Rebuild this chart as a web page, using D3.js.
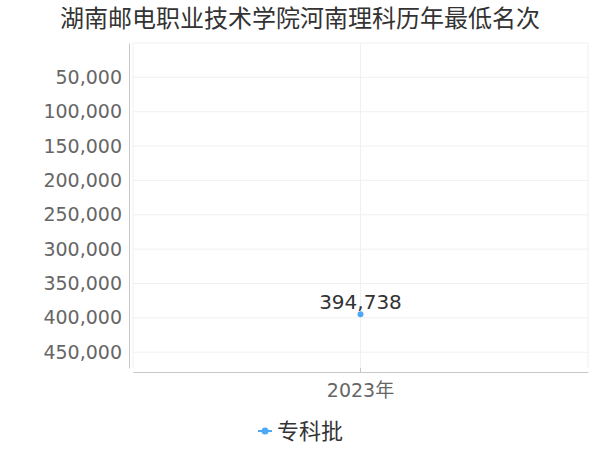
<!DOCTYPE html>
<html>
<head>
<meta charset="utf-8">
<script src="https://cdn.jsdelivr.net/npm/d3@7"></script>
<style>
  body { margin: 0; background: #fff; }
  svg { font-family: "DejaVu Sans", "Noto Sans CJK SC", sans-serif; }
</style>
</head>
<body>
<script>
// chart data
const years = ["2023年"];
const seriesName = "专科批";
const ranks = [394738];
const yTicks = [50000, 100000, 150000, 200000, 250000, 300000, 350000, 400000, 450000];

const width = 600, height = 450;
const margin = { top: 43, right: 12, bottom: 78, left: 133 };
const color = "#4ea7f7";

const svg = d3.select("body").append("svg")
  .attr("width", width)
  .attr("height", height);

// title
svg.append("text")
  .attr("x", 300)
  .attr("y", 27)
  .attr("text-anchor", "middle")
  .attr("font-size", 24)
  .attr("fill", "#333")
  .text("湖南邮电职业技术学院河南理科历年最低名次");

const x = d3.scaleBand()
  .domain(years)
  .range([margin.left, width - margin.right]);

// reversed rank axis: small values on top
const y = d3.scaleLinear()
  .domain([0, 473000])
  .range([margin.top, height - margin.bottom - 4]);

// horizontal grid
svg.append("g")
  .selectAll("line")
  .data([0, ...yTicks])
  .join("line")
  .attr("x1", margin.left)
  .attr("x2", width - margin.right)
  .attr("y1", d => y(d))
  .attr("y2", d => y(d))
  .attr("stroke", "#f0f0f0");

// vertical grid
svg.append("g")
  .selectAll("line")
  .data([margin.left, ...years.map(d => x(d) + x.bandwidth() / 2), width - margin.right])
  .join("line")
  .attr("x1", d => d)
  .attr("x2", d => d)
  .attr("y1", margin.top)
  .attr("y2", y(473000))
  .attr("stroke", "#f0f0f0");

// y axis
const yAxis = svg.append("g")
  .attr("transform", `translate(${margin.left - 4},0)`)
  .call(d3.axisLeft(y).tickValues(yTicks).tickFormat(d3.format(",")).tickSize(0).tickPadding(7));
yAxis.select(".domain").attr("stroke", "#c8c8c8");
yAxis.selectAll("text").attr("font-size", 19).attr("fill", "#666")
  .attr("font-family", "DejaVu Sans");

// x axis
const xAxis = svg.append("g")
  .attr("transform", `translate(0,${height - margin.bottom})`)
  .call(d3.axisBottom(x).tickSize(4).tickPadding(8).tickSizeOuter(0));
xAxis.select(".domain").attr("stroke", "#c8c8c8");
xAxis.selectAll(".tick line").attr("stroke", "#c8c8c8").attr("transform", "translate(0,-4)");
xAxis.selectAll("text").attr("font-size", 19).attr("fill", "#666")
  .attr("font-family", "DejaVu Sans, Noto Sans CJK SC");

// line + points
const pts = years.map((d, i) => ({ year: d, v: ranks[i] }));
svg.append("path")
  .datum(pts)
  .attr("fill", "none")
  .attr("stroke", color)
  .attr("stroke-width", 2)
  .attr("d", d3.line().x(d => x(d.year) + x.bandwidth() / 2).y(d => y(d.v)));

svg.append("g")
  .selectAll("circle")
  .data(pts)
  .join("circle")
  .attr("cx", d => x(d.year) + x.bandwidth() / 2)
  .attr("cy", d => y(d.v))
  .attr("r", 3)
  .attr("fill", color);

svg.append("g")
  .selectAll("text")
  .data(pts)
  .join("text")
  .attr("x", d => x(d.year) + x.bandwidth() / 2)
  .attr("y", d => y(d.v) - 5)
  .attr("text-anchor", "middle")
  .attr("font-size", 20)
  .attr("fill", "#333")
  .text(d => d3.format(",")(d.v));

// legend
const lg = svg.append("g").attr("transform", "translate(265,431)");
lg.append("line").attr("x1", -7).attr("x2", 7).attr("stroke", color).attr("stroke-width", 2);
lg.append("circle").attr("r", 3.5).attr("fill", color);
lg.append("text")
  .attr("x", 12)
  .attr("y", 8)
  .attr("font-size", 22)
  .attr("fill", "#333")
  .attr("font-family", "Noto Sans CJK SC")
  .text(seriesName);
</script>
</body>
</html>
